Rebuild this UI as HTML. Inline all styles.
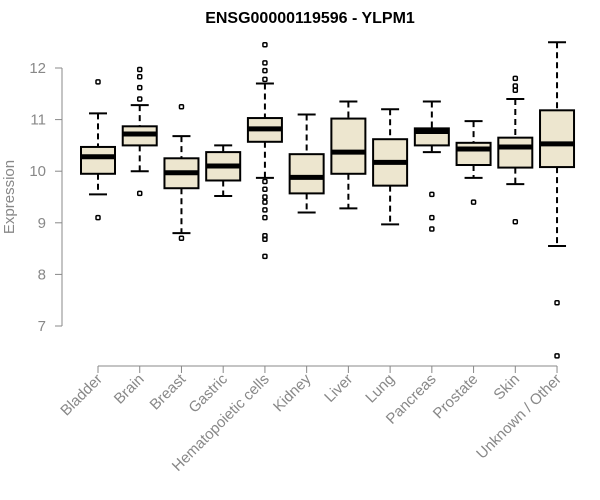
<!DOCTYPE html>
<html><head><meta charset="utf-8"><style>
body{margin:0;background:#fff}
svg{display:block;font-family:"Liberation Sans",Arial,sans-serif}
</style></head><body>
<svg id="chart" width="600" height="500">
<text x="310" y="23" text-anchor="middle" font-weight="bold" font-size="16" fill="#000">ENSG00000119596 - YLPM1</text>
<text transform="translate(14,197) rotate(-90)" text-anchor="middle" font-size="15" fill="#888">Expression</text>
<g id="plot"></g>
</svg>
<script>
const categories=["Bladder","Brain","Breast","Gastric","Hematopoietic cells","Kidney","Liver","Lung","Pancreas","Prostate","Skin","Unknown / Other"];
const whiskerHigh=[11.12,11.28,10.68,10.5,11.7,11.1,11.35,11.2,11.35,10.97,11.4,12.5];
const q3=[10.47,10.87,10.25,10.37,11.03,10.33,11.02,10.62,10.83,10.55,10.65,11.18];
const medians=[10.28,10.72,9.97,10.1,10.82,9.88,10.37,10.17,10.77,10.43,10.47,10.53];
const q1=[9.95,10.5,9.67,9.82,10.57,9.57,9.95,9.72,10.5,10.12,10.07,10.08];
const whiskerLow=[9.55,10.0,8.8,9.52,9.87,9.2,9.28,8.97,10.37,9.87,9.75,8.55];
const outliers=[[11.73,9.1],[11.97,11.83,11.62,11.4,9.57],[11.25,8.7],[],[12.45,12.1,11.95,11.78,9.8,9.65,9.5,9.4,9.25,9.1,8.75,8.68,8.35],[],[],[],[9.55,9.1,8.88],[9.4],[11.8,11.65,11.57,9.02],[7.45,6.42]];
const yTicks=[7,8,9,10,11,12];

const NS="http://www.w3.org/2000/svg";
const g=document.getElementById("plot");
const y=v=>68+(12-v)*51.6;
const x=i=>98+i*41.73;
function mk(tag,attrs,parent){const e=document.createElementNS(NS,tag);for(const k in attrs)e.setAttribute(k,attrs[k]);(parent||g).appendChild(e);return e;}

let yl=mk("line",{x1:62,x2:62,y1:y(12),y2:y(7),stroke:"#888"});


yTicks.forEach(t=>{
  const tk=mk("line",{x1:55,x2:62,y1:y(t),y2:y(t),stroke:"#888"});
  
  
  const tx=mk("text",{x:46,y:y(t)+5,"text-anchor":"end","font-size":15,fill:"#888"});
  tx.textContent=t;
  
  
});
let xl=mk("line",{x1:x(0),x2:x(categories.length-1),y1:366,y2:366,stroke:"#888"});


const bw=34;
categories.forEach((c,i)=>{
  const cx=x(i);
  const tk=mk("line",{x1:cx,x2:cx,y1:366,y2:373,stroke:"#888"});
  
  
  const tx=mk("text",{transform:`translate(${cx+5},380) rotate(-45)`,"text-anchor":"end","font-size":15,fill:"#888"});
  tx.textContent=c;
  
  
  const bg=mk("g",{});
  
  
  mk("line",{x1:cx,x2:cx,y1:y(whiskerHigh[i]),y2:y(q3[i]),stroke:"#000","stroke-width":2,"stroke-dasharray":"6,4"},bg);
  mk("line",{x1:cx,x2:cx,y1:y(q1[i]),y2:y(whiskerLow[i]),stroke:"#000","stroke-width":2,"stroke-dasharray":"6,4"},bg);
  mk("line",{x1:cx-9,x2:cx+9,y1:y(whiskerHigh[i]),y2:y(whiskerHigh[i]),stroke:"#000","stroke-width":2},bg);
  mk("line",{x1:cx-9,x2:cx+9,y1:y(whiskerLow[i]),y2:y(whiskerLow[i]),stroke:"#000","stroke-width":2},bg);
  mk("rect",{x:cx-bw/2,y:y(q3[i]),width:bw,height:y(q1[i])-y(q3[i]),fill:"#ede6cf",stroke:"#000","stroke-width":2},bg);
  mk("line",{x1:cx-bw/2,x2:cx+bw/2,y1:y(medians[i]),y2:y(medians[i]),stroke:"#000","stroke-width":5},bg);
  outliers[i].forEach(o=>{
    const p=mk("rect",{x:cx-2,y:y(o)-2,width:4,height:4,rx:1,fill:"none",stroke:"#000","stroke-width":1.5},bg);
    
    
  });
});
</script>
</body></html>
